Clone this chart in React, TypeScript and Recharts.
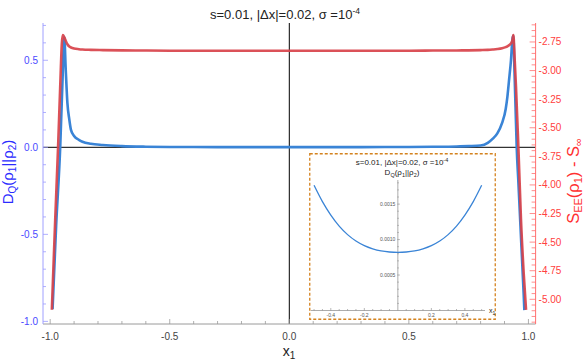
import React from 'react';
import { LineChart, Line, XAxis, YAxis, ReferenceLine } from 'recharts';

const FONT = '"Liberation Sans", Arial, Helvetica, sans-serif';

// ---------- main chart data ----------
const xValues = [
  -0.993, -0.99, -0.985, -0.979, -0.975, -0.967, -0.958, -0.951, -0.948, -0.947, -0.941, -0.935, -0.928, -0.92,
  -0.913, -0.9, -0.88, -0.865, -0.83, -0.78, -0.7, -0.6, -0.5, -0.4, -0.3, -0.2, -0.1, 0,
  0.1, 0.2, 0.3, 0.4, 0.5, 0.6, 0.7, 0.75, 0.8, 0.83, 0.85, 0.87, 0.89, 0.905, 0.912, 0.92, 0.927, 0.933,
  0.937, 0.942, 0.948, 0.951, 0.958, 0.969, 0.98, 0.983, 0.99,
];
const dqValues: (number | null)[] = [
  null, -0.93, null, null, -0.45, null, 0.0, null, 0.4, null, 0.635, 0.45, 0.255, 0.16,
  0.1, 0.065, 0.043, 0.032, 0.02, 0.013, 0.007, 0.0035, 0.00177, 0.00135, 0.00107, 0.00092, 0.00084, 0.00082,
  0.00084, 0.00092, 0.00107, 0.00135, 0.00177, 0.003, 0.005, 0.007, 0.01, 0.025, 0.048, 0.08, 0.14, 0.22,
  0.29, 0.4, 0.5, 0.62, 0.64, 0.42, 0.14, 0.0, -0.2, -0.52, -0.84, -0.935, null,
];
const seeValues: (number | null)[] = [
  -5.092, null, -4.643, -4.306, null, -3.67, -3.138, -2.757, null, -2.69, -2.71, -2.74, -2.77, -2.79,
  -2.798, -2.807, -2.813, -2.816, -2.819, -2.821, -2.823, -2.825, -2.826, -2.826, -2.826, -2.826, -2.826, -2.826,
  -2.826, -2.826, -2.826, -2.826, -2.826, -2.825, -2.824, -2.823, -2.821, -2.819, -2.816, -2.812, -2.805, -2.795,
  -2.788, -2.777, -2.762, -2.735, -2.69, -2.879, -3.141, null, -3.67, -4.309, -4.765, null, -5.092,
];

const xMajorTicks = [-1, -0.5, 0, 0.5, 1];
const xTickLabels = ['-1.0', '-0.5', '0.0', '0.5', '1.0'];
const leftMajorTicks = [-1, -0.5, 0, 0.5];
const leftTickLabels = ['-1.0', '-0.5', '0.0', '0.5'];
const rightMajorTicks = [-5, -4.75, -4.5, -4.25, -4, -3.75, -3.5, -3.25, -3, -2.75];
const rightTickLabels = ['-5.00', '-4.75', '-4.50', '-4.25', '-4.00', '-3.75', '-3.50', '-3.25', '-3.00', '-2.75'];

// ---------- inset data ----------
const insetX = [-0.5, -0.45, -0.4, -0.35, -0.3, -0.25, -0.2, -0.15, -0.1, -0.05, 0, 0.05, 0.1, 0.15, 0.2, 0.25, 0.3, 0.35, 0.4, 0.45, 0.5];
const insetDq = [
  0.001765, 0.001535, 0.001345, 0.00119, 0.00107, 0.00098, 0.000915, 0.00087, 0.00084, 0.000825, 0.00082,
  0.000825, 0.00084, 0.00087, 0.000915, 0.00098, 0.00107, 0.00119, 0.001345, 0.001535, 0.001765,
];
const insetXMajor = [-0.4, -0.2, 0.2, 0.4];
const insetXLabels = ['-0.4', '-0.2', '0.2', '0.4'];
const insetYMajor = [0.0005, 0.001, 0.0015];
const insetYLabels = ['0.0005', '0.0010', '0.0015'];

const steps = (start: number, step: number, count: number) =>
  Array.from({ length: count }, (_, i) => Math.round((start + i * step) * 1e7) / 1e7);

const xAllTicks = steps(-1, 0.1, 21);
const leftAllTicks = steps(-1, 0.1, 18);
const rightAllTicks = steps(-5.2, 0.05, 53);
const insetXAll = steps(-0.5, 0.05, 21).filter((v) => Math.abs(v) > 1e-9);
const insetYAll = steps(0.0001, 0.0001, 18);

const rows = xValues.map((x, i) => ({ x, dq: dqValues[i], see: seeValues[i] }));
const insetRows = insetX.map((x, i) => ({ x, dq: insetDq[i] }));

const findIdx = (v: number, arr: number[]) => arr.findIndex((m) => Math.abs(m - v) < 1e-8);

// ---------- tick renderers ----------
const XTick = (p: any) => {
  const { x, y, payload } = p;
  const idx = findIdx(payload.value, xMajorTicks);
  return (
    <g>
      <line x1={x} x2={x} y1={y} y2={y - (idx >= 0 ? 5 : 3)} stroke="#9a9a9a" strokeWidth={0.8} />
      {idx >= 0 && (
        <text x={x} y={y + 16} textAnchor="middle" fontSize={10} fill="#444" fontFamily={FONT}>
          {xTickLabels[idx]}
        </text>
      )}
    </g>
  );
};

const LeftTick = (p: any) => {
  const { x, y, payload } = p;
  const idx = findIdx(payload.value, leftMajorTicks);
  return (
    <g>
      <line x1={x} x2={x + (idx >= 0 ? 5 : 3)} y1={y} y2={y} stroke="#9c9cff" strokeWidth={0.8} />
      {idx >= 0 && (
        <text x={x - 5} y={y + 3.5} textAnchor="end" fontSize={10} fill="#4a4aff" fontFamily={FONT}>
          {leftTickLabels[idx]}
        </text>
      )}
    </g>
  );
};

const RightTick = (p: any) => {
  const { x, y, payload } = p;
  const idx = findIdx(payload.value, rightMajorTicks);
  return (
    <g>
      <line x1={x - (idx >= 0 ? 6 : 4)} x2={x} y1={y} y2={y} stroke="#ff7070" strokeWidth={0.8} />
      {idx >= 0 && (
        <text x={x + 3} y={y + 3.5} textAnchor="start" fontSize={10} fill="#ff4040" fontFamily={FONT}>
          {rightTickLabels[idx]}
        </text>
      )}
    </g>
  );
};

const IW = 187;
const IH = 167;
const IM = { top: 27, right: 11, bottom: 8.5, left: 0.7 };
const insetAxisX = IM.left + 1 + (IW - IM.left - 1 - IM.right - 1) / 2;

const InsetXTick = (p: any) => {
  const { x, y, payload } = p;
  const idx = findIdx(payload.value, insetXMajor);
  return (
    <g>
      <line x1={x} x2={x} y1={y} y2={y - (idx >= 0 ? 2.5 : 1.5)} stroke="#888" strokeWidth={0.6} />
      {idx >= 0 && (
        <text x={x} y={y + 6.5} textAnchor="middle" fontSize={5} fill="#555" fontFamily={FONT}>
          {insetXLabels[idx]}
        </text>
      )}
    </g>
  );
};

const InsetYTick = (p: any) => {
  const { y, payload } = p;
  const idx = findIdx(payload.value, insetYMajor);
  const len = idx >= 0 ? 2.5 : 1.5;
  return (
    <g>
      <line x1={insetAxisX} x2={insetAxisX + len} y1={y} y2={y} stroke="#888" strokeWidth={0.6} />
      {idx >= 0 && (
        <text x={insetAxisX - 2} y={y + 1.8} textAnchor="end" fontSize={5} fill="#555" fontFamily={FONT}>
          {insetYLabels[idx]}
        </text>
      )}
    </g>
  );
};

const W = 584;
const H = 362;
const M = { top: 23, right: 47.4, bottom: 37, left: 42 };

export default function App() {
  return (
    <div style={{ position: 'absolute', left: 0, top: 0, width: W, height: H, background: '#fff', fontFamily: FONT }}>
      <LineChart width={W} height={H} data={rows} margin={M}>
        <XAxis
          dataKey="x"
          type="number"
          domain={[-1.03, 1.03]}
          allowDataOverflow
          ticks={xAllTicks}
          interval={0}
          height={1}
          tickSize={0}
          tickMargin={0}
          axisLine={{ stroke: '#9a9a9a', strokeWidth: 1 }}
          tick={(p: any) => <XTick {...p} />}
        />
        <YAxis
          yAxisId="left"
          type="number"
          domain={[-1.015, 0.714]}
          allowDataOverflow
          ticks={leftAllTicks}
          interval={0}
          width={1}
          tickSize={0}
          tickMargin={0}
          axisLine={{ stroke: '#a0a0ff', strokeWidth: 1 }}
          tick={(p: any) => <LeftTick {...p} />}
        />
        <YAxis
          yAxisId="right"
          orientation="right"
          type="number"
          domain={[-5.216, -2.584]}
          allowDataOverflow
          ticks={rightAllTicks}
          interval={0}
          width={1}
          tickSize={0}
          tickMargin={0}
          axisLine={{ stroke: '#ff7070', strokeWidth: 1 }}
          tick={(p: any) => <RightTick {...p} />}
        />
        <ReferenceLine yAxisId="left" y={0} stroke="#000" strokeWidth={1} />
        <ReferenceLine yAxisId="left" x={0} stroke="#000" strokeWidth={1} />
        <Line
          yAxisId="left"
          dataKey="dq"
          type="monotone"
          stroke="#3a84d6"
          strokeWidth={2.6}
          dot={false}
          connectNulls
          isAnimationActive={false}
        />
        <Line
          yAxisId="right"
          dataKey="see"
          type="monotone"
          stroke="#d8424a"
          strokeOpacity={0.92}
          strokeWidth={2.6}
          dot={false}
          connectNulls
          isAnimationActive={false}
        />
      </LineChart>

      <svg width={W} height={H} style={{ position: 'absolute', left: 0, top: 0, pointerEvents: 'none' }}>
        <text x={285} y={18.5} textAnchor="middle" fontSize={13} fill="#222" fontFamily={FONT}>
          s=0.01, |Δx|=0.02, σ =10
          <tspan fontSize={8.5} dy={-5}>-4</tspan>
        </text>
        <text x={289} y={356} textAnchor="middle" fontSize={14} fill="#222" fontFamily={FONT}>
          x<tspan fontSize={10} dy={3}>1</tspan>
        </text>
        <text
          transform="translate(13,172) rotate(-90)"
          x={0}
          y={0}
          textAnchor="middle"
          fontSize={15}
          fill="#2b2bff"
          fontFamily={FONT}
        >
          D<tspan fontSize={10} dy={3}>Q</tspan>
          <tspan dy={-3}>(ρ</tspan>
          <tspan fontSize={10} dy={3}>1</tspan>
          <tspan dy={-3}>||ρ</tspan>
          <tspan fontSize={10} dy={3}>2</tspan>
          <tspan dy={-3}>)</tspan>
        </text>
        <text
          transform="translate(579,181) rotate(-90)"
          x={0}
          y={0}
          textAnchor="middle"
          fontSize={16.5}
          fill="#ff3030"
          fontFamily={FONT}
        >
          S<tspan fontSize={11} dy={3}>EE</tspan>
          <tspan dy={-3}>(ρ</tspan>
          <tspan fontSize={11} dy={3}>1</tspan>
          <tspan dy={-3}>) - S</tspan>
          <tspan fontSize={11} dy={3}>∞</tspan>
        </text>
      </svg>

      <div style={{ position: 'absolute', left: 309, top: 153, width: IW, height: IH, background: '#fff' }}>
        <LineChart width={IW} height={IH} data={insetRows} margin={IM}>
          <XAxis
            dataKey="x"
            type="number"
            domain={[-0.52, 0.52]}
            allowDataOverflow
            ticks={insetXAll}
            interval={0}
            height={1}
            tickSize={0}
            tickMargin={0}
            axisLine={{ stroke: '#888', strokeWidth: 0.7 }}
            tick={(p: any) => <InsetXTick {...p} />}
          />
          <YAxis
            type="number"
            domain={[0, 0.00184]}
            allowDataOverflow
            ticks={insetYAll}
            interval={0}
            width={1}
            tickSize={0}
            tickMargin={0}
            axisLine={false}
            tick={(p: any) => <InsetYTick {...p} />}
          />
          <ReferenceLine x={0} stroke="#888" strokeWidth={0.7} />
          <Line
            dataKey="dq"
            type="monotone"
            stroke="#3a84d6"
            strokeWidth={1.3}
            dot={false}
            isAnimationActive={false}
          />
        </LineChart>
        <svg width={IW} height={IH} style={{ position: 'absolute', left: 0, top: 0, pointerEvents: 'none' }}>
          <rect x={0.75} y={0.75} width={IW - 1.5} height={IH - 1.5} fill="none" stroke="#d4821e" strokeWidth={1.3} strokeDasharray="3 2" />
          <text x={93} y={12} textAnchor="middle" fontSize={8} fill="#222" fontFamily={FONT}>
            s=0.01, |Δx|=0.02, σ =10
            <tspan fontSize={5.5} dy={-3}>-4</tspan>
          </text>
          <text x={93} y={22} textAnchor="middle" fontSize={8} fill="#222" fontFamily={FONT}>
            D<tspan fontSize={5.5} dy={2}>Q</tspan>
            <tspan dy={-2}>(ρ</tspan>
            <tspan fontSize={5.5} dy={2}>1</tspan>
            <tspan dy={-2}>||ρ</tspan>
            <tspan fontSize={5.5} dy={2}>2</tspan>
            <tspan dy={-2}>)</tspan>
          </text>
          <text x={180} y={160} fontSize={7} fill="#222" fontFamily={FONT}>
            x<tspan fontSize={5} dy={2}>1</tspan>
          </text>
        </svg>
      </div>
    </div>
  );
}
